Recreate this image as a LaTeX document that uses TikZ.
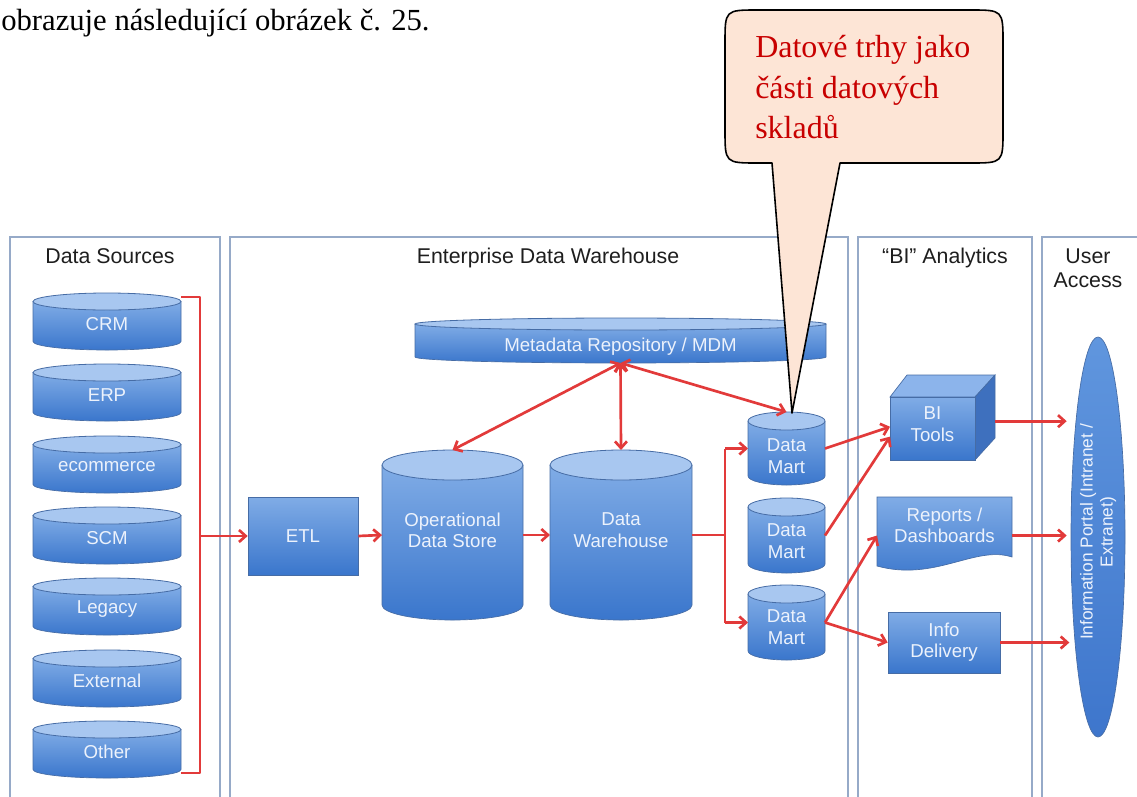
\documentclass[tikz,border=0pt]{standalone}
\usepackage{fontspec}
\setmainfont{Liberation Serif}
\setsansfont{Liberation Sans}
\usetikzlibrary{arrows.meta,calc,shapes.geometric}

\definecolor{flowred}{RGB}{226,58,58}
\definecolor{boxline}{RGB}{150,170,200}
\definecolor{blueTop}{RGB}{128,172,230}
\definecolor{blueBot}{RGB}{58,118,204}
\definecolor{capfill}{RGB}{168,199,240}
\definecolor{edgeblue}{RGB}{70,108,165}
\definecolor{lbltext}{RGB}{236,242,252}
\definecolor{calloutfill}{RGB}{253,229,214}
\definecolor{calloutred}{RGB}{200,0,0}
\definecolor{titlegray}{RGB}{30,30,30}
\definecolor{cubetop}{RGB}{140,180,235}
\definecolor{cubeside}{RGB}{62,112,190}

\newcommand{\px}[1]{#1*0.75pt}

\tikzset{
  cylbody/.style={top color=blueTop,bottom color=blueBot},
  cyledge/.style={draw=edgeblue,line width=0.5pt},
  cyltop/.style={fill=capfill,draw=edgeblue,line width=0.6pt},
  anchorbox/.style={rectangle,inner sep=0pt,outer sep=0pt,draw=none},
  lbl/.style={font=\sffamily\fontsize{14}{16}\selectfont,text=lbltext,align=center,inner sep=0pt},
  coltitle/.style={font=\sffamily\fontsize{16}{18}\selectfont,text=titlegray,anchor=base,inner sep=0pt},
  column/.style={draw=boxline,line width=1.2pt,fill=white},
  flow/.style={draw=flowred,line width=2pt},
  arr/.style={flow,-{Straight Barb[length=5pt,width=9pt]}},
  arrboth/.style={flow,{Straight Barb[length=5pt,width=9pt]}-{Straight Barb[length=5pt,width=9pt]}},
  blockbox/.style={rectangle,top color=blueTop,bottom color=blueBot,draw=edgeblue,line width=0.5pt,
    inner sep=0pt,font=\sffamily\fontsize{14}{16}\selectfont,text=lbltext,align=center},
  calloutshape/.style={fill=calloutfill,draw=black,line width=1.2pt,line join=round},
  callouttext/.style={anchor=base west,inner sep=0pt,text=calloutred,font=\fontsize{24}{30}\selectfont},
}

% database cylinder: name, centre x, top y, width, height, cap radius, label y, label
\newcommand{\dbcyl}[8]{%
  \pgfmathsetmacro{\cxL}{#2-#4/2}%
  \pgfmathsetmacro{\cxR}{#2+#4/2}%
  \pgfmathsetmacro{\cyT}{#3+#6}%
  \pgfmathsetmacro{\cyB}{#3+#5-#6}%
  \pgfmathsetmacro{\crx}{#4/2}%
  \path[cylbody] (\cxL,\cyT) -- (\cxL,\cyB) arc[start angle=180,end angle=0,x radius=\crx,y radius=#6] -- (\cxR,\cyT) -- cycle;
  \draw[cyledge] (\cxL,\cyT) -- (\cxL,\cyB) arc[start angle=180,end angle=0,x radius=\crx,y radius=#6] -- (\cxR,\cyT);
  \draw[cyltop] (#2,\cyT) ellipse[x radius=\crx,y radius=#6];
  \node[anchorbox,minimum width=\px{#4},minimum height=\px{#5}] (#1) at (#2,#3+#5/2) {};
  \node[lbl] (#1-t) at (#2,#7) {#8};
}

\begin{document}
\begin{tikzpicture}[x=0.75pt,y=-0.75pt]
\useasboundingbox (0,0) rectangle (1137,796);
\clip (0,0) rectangle (1137,796);
\fill[white] (0,0) rectangle (1137,796);

% lead-in sentence
\node[anchor=base west,inner sep=0pt,font=\fontsize{23}{27}\selectfont] (lead) at (1,30)
  {obrazuje následující obrázek č. 25.};

% column frames
\draw[column] (10,237) rectangle (220,810);
\draw[column] (230,237) rectangle (848,810);
\draw[column] (858,237) rectangle (1032,810);
\draw[column] (1042,237) rectangle (1160,810);

\node[coltitle] (t-ds) at (110,263) {Data Sources};
\node[coltitle] (t-edw) at (548,263) {Enterprise Data Warehouse};
\node[coltitle] (t-bi) at (945,263) {“BI” Analytics};
\node[coltitle] (t-ua) at (1088,263) {User};
\node[coltitle] (t-ua2) at (1088,287) {Access};

% source systems
\dbcyl{crm}{107}{293}{148}{57}{8.5}{324}{CRM}
\dbcyl{erp}{107}{364}{148}{57}{8.5}{395}{ERP}
\dbcyl{ecom}{107}{436}{148}{57}{8.5}{467}{ecommerce}
\dbcyl{scm}{107}{507}{148}{57}{8.5}{538}{SCM}
\dbcyl{legacy}{107}{578}{148}{57}{8.5}{609}{Legacy}
\dbcyl{external}{107}{650}{148}{57}{8.5}{681}{External}
\dbcyl{other}{107}{721}{148}{57}{8.5}{752}{Other}

% warehouse core
\node[blockbox,minimum width=\px{110},minimum height=\px{78}] (etl) at (303,536) {ETL};
\dbcyl{meta}{620.5}{318}{411}{45}{6}{347}{Metadata Repository / MDM}
\dbcyl{ods}{452.5}{450}{141}{170}{15}{530}{Operational\\Data Store}
\dbcyl{dw}{621}{450}{142}{170}{15}{530}{Data\\Warehouse}
\dbcyl{dm1}{786.5}{412}{77}{73}{9}{456}{Data\\Mart}
\dbcyl{dm2}{786.5}{498}{77}{75}{9}{541}{Data\\Mart}
\dbcyl{dm3}{786.5}{585}{77}{75}{9}{627}{Data\\Mart}

% BI tools cube
\fill[cubetop,draw=edgeblue,line width=0.5pt] (890,397) -- (907,375) -- (995,375) -- (975,397) -- cycle;
\fill[cubeside,draw=edgeblue,line width=0.5pt] (975,397) -- (995,375) -- (995,438) -- (975,460) -- cycle;
\node[blockbox,minimum width=\px{85},minimum height=\px{63}] (bi) at (932.5,428.5) {};
\node[lbl] (bi-t) at (932.5,424) {BI\\Tools};
\node[anchorbox,minimum width=\px{105},minimum height=\px{85}] (bitools) at (942.5,417.5) {};

% reports / dashboards document
\path[top color=blueTop,bottom color=blueBot] (877,497) -- (1012,497) -- (1012,557)
  .. controls (975,545) and (935,582) .. (877,566) -- cycle;
\draw[cyledge] (877,497) -- (1012,497) -- (1012,557)
  .. controls (975,545) and (935,582) .. (877,566) -- cycle;
\node[anchorbox,minimum width=\px{135},minimum height=\px{70}] (reports) at (944.5,532) {};
\node[lbl] (reports-t) at (944.5,525) {Reports /\\Dashboards};

\node[blockbox,minimum width=\px{112},minimum height=\px{61}] (info) at (944,642.5) {Info\\Delivery};

% information portal
\node[ellipse,minimum width=\px{54},minimum height=\px{400},inner sep=0pt,
  top color={rgb,255:red,96;green,150;blue,222},bottom color={rgb,255:red,62;green,118;blue,204},
  draw=edgeblue,line width=0.5pt] (portal) at (1098,537) {};
\node[lbl,rotate=90,font=\sffamily\fontsize{13}{15}\selectfont] (portal-t) at (1098,532)
  {Information Portal (Intranet /\\Extranet)};

% data flows
\coordinate (busx) at (200,0);
\coordinate (forkx) at (725,0);
\draw[flow,line join=round] ($(crm.north east)+(0,4)$) -- ($(crm.north east -| busx)+(0,4)$)
  -- ($(other.south east -| busx)+(0,-5)$) -- ($(other.south east)+(0,-5)$);
\draw[arr] (etl.west -| busx) -- (etl.west);
\draw[arr] (etl.east) -- (ods.west);
\draw[arr] (ods.east) -- (dw.west);
\draw[flow] (dw.east) -- (dw.east -| forkx);
\draw[flow] (dm1.west -| forkx) -- (dm3.west -| forkx);
\draw[arr] (dm1.west -| forkx) -- (dm1.west);
\draw[arr] (dm3.west -| forkx) -- (dm3.west);
\draw[arrboth] (meta.south) -- (ods.north);
\draw[arrboth] (meta.south) -- (dw.north);
\draw[arrboth] (meta.south) -- (dm1.north);
\draw[arr] (dm1.east) -- (bitools.190);
\draw[arr] (dm2.east) -- (bitools.200);
\draw[arr] (dm3.east) -- (reports.183);
\draw[arr] (dm3.east) -- (info.west);
\draw[arr,shorten >=3pt] (bitools.-4) -- (bitools.-4 -| portal.west);
\draw[arr,shorten >=3pt] (reports.-3) -- (reports.-3 -| portal.west);
\draw[arr,shorten >=1pt] (info.east) -- (info.east -| portal.west);

% callout
\coordinate (tip) at (792,413);
\draw[calloutshape] (tip) -- (772,163) -- (758,163) .. controls (725,163) .. (725,130)
  -- (725,43) .. controls (725,10) .. (758,10) -- (970,10) .. controls (1003,10) .. (1003,43)
  -- (1003,130) .. controls (1003,163) .. (970,163) -- (840,163) -- cycle;
\node[callouttext] (co1) at (755,57) {Datové trhy jako};
\node[callouttext] (co2) at (755,98) {části datových};
\node[callouttext] (co3) at (755,138) {skladů};
\end{tikzpicture}
\end{document}
